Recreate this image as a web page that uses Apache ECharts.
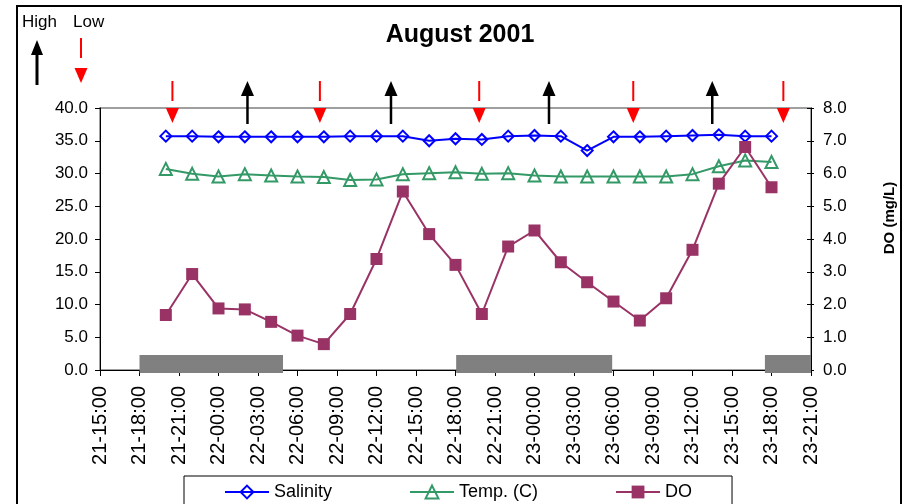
<!DOCTYPE html>
<html>
<head>
<meta charset="utf-8">
<script src="https://cdn.jsdelivr.net/npm/echarts@6/dist/echarts.min.js"></script>
<style>html,body{margin:0;padding:0;background:#fff}#c{width:908px;height:504px}</style>
</head>
<body>
<div id="c"></div>
<script>
// x positions are hours after 21-15:00
const tickLabels = ['21-15:00','21-18:00','21-21:00','22-00:00','22-03:00','22-06:00','22-09:00','22-12:00','22-15:00','22-18:00','22-21:00','23-00:00','23-03:00','23-06:00','23-09:00','23-12:00','23-15:00','23-18:00','23-21:00'];
const hours = [5,7,9,11,13,15,17,19,21,23,25,27,29,31,33,35,37,39,41,43,45,47,49,51];
const salinity = [35.7,35.7,35.6,35.6,35.6,35.6,35.6,35.7,35.7,35.7,35.0,35.3,35.2,35.7,35.8,35.7,33.5,35.6,35.6,35.7,35.8,35.9,35.7,35.7];
const temp = [30.7,29.95,29.55,29.9,29.7,29.55,29.45,29.0,29.1,29.9,30.05,30.2,29.95,30.05,29.7,29.55,29.55,29.55,29.55,29.55,29.9,31.1,32.0,31.75];
const dO = [1.68,2.93,1.88,1.85,1.47,1.05,0.79,1.71,3.39,5.45,4.15,3.21,1.71,3.77,4.26,3.29,2.68,2.09,1.51,2.19,3.67,5.69,6.81,5.58];
const lowTideHours = [5.5,16.7,28.8,40.5,51.9];
const highTideHours = [11.2,22.1,34.1,46.5];
const darkPeriods = [[3,13.9],[27.05,38.9],[50.5,54]];
const seriesNames = ['Salinity','Temp. (C)','DO'];

const FONT = "'Liberation Sans', Arial, sans-serif";
const chart = echarts.init(document.getElementById('c'), null, {renderer:'canvas'});

function pair(xs, ys){ return xs.map((x,i)=>[x, ys[i]]); }

const option = {
  animation: false,
  textStyle: {fontFamily: FONT},
  grid: {left:100, right:97, top:108, bottom:134, show:true, borderColor:'#808080', borderWidth:1.5, backgroundColor:'transparent'},
  legend: {
    data: seriesNames, left:184, top:476, padding:[7,40,20,40], itemGap:77, itemWidth:44, itemHeight:16,
    borderColor:'#000', borderWidth:1, textStyle:{fontSize:18, color:'#000', fontFamily:FONT}
  },
  xAxis: {
    type:'value', min:0, max:54, interval:3,
    axisLine:{show:true, onZero:false, lineStyle:{color:'#000', width:1}},
    axisTick:{show:true, length:6, lineStyle:{color:'#000'}},
    splitLine:{show:false},
    axisLabel:{rotate:90, margin:16, fontSize:20, color:'#000', fontFamily:FONT,
      formatter:(v)=>tickLabels[Math.round(v/3)] || ''}
  },
  yAxis: [
    {type:'value', min:0, max:40, interval:5, position:'left',
     axisLine:{show:true, lineStyle:{color:'#000'}}, axisTick:{show:true, length:5, lineStyle:{color:'#000'}},
     splitLine:{show:false}, axisLabel:{margin:12, fontSize:17, color:'#000', formatter:(v)=>v.toFixed(1)}},
    {type:'value', min:0, max:8, interval:1, position:'right',
     axisLine:{show:true, lineStyle:{color:'#000'}}, axisTick:{show:true, length:3, lineStyle:{color:'#000'}},
     splitLine:{show:false}, axisLabel:{margin:12, fontSize:17, color:'#000', formatter:(v)=>v.toFixed(1)}},
    {type:'value', min:0, max:8, interval:1, position:'right',
     axisLine:{show:false}, axisTick:{show:true, inside:true, length:4, lineStyle:{color:'#000'}},
     splitLine:{show:false}, axisLabel:{show:false}}
  ],
  graphic: [
    {type:'rect', shape:{x:17,y:6,width:884,height:520}, style:{fill:'none', stroke:'#000', lineWidth:2}, silent:true},
    {type:'text', style:{text:'August 2001', x:460, y:35, textAlign:'center', textVerticalAlign:'middle', font:"bold 25px "+FONT, fill:'#000'}},
    {type:'text', rotation:Math.PI/2, x:890, y:218, style:{text:'DO (mg/L)', x:0, y:0, textAlign:'center', textVerticalAlign:'middle', font:"bold 15px "+FONT, fill:'#000'}},
    {type:'text', style:{text:'High', x:22, y:22, textVerticalAlign:'middle', font:"17px "+FONT, fill:'#000'}},
    {type:'text', style:{text:'Low', x:73, y:22, textVerticalAlign:'middle', font:"17px "+FONT, fill:'#000'}},
    {type:'line', shape:{x1:37,y1:53,x2:37,y2:85}, style:{stroke:'#000', lineWidth:3}},
    {type:'polygon', shape:{points:[[37,40],[31,55],[43,55]]}, style:{fill:'#000'}},
    {type:'line', shape:{x1:81,y1:38,x2:81,y2:58}, style:{stroke:'#ff0000', lineWidth:2}},
    {type:'polygon', shape:{points:[[74.5,68],[87.5,68],[81,83]]}, style:{fill:'#ff0000'}}
  ],
  series: [
    {name:'Salinity', type:'line', yAxisIndex:0, data:pair(hours, salinity),
     symbol:'diamond', symbolSize:[11,11], showAllSymbol:true,
     lineStyle:{color:'#0000ff', width:2}, itemStyle:{color:'rgba(255,255,255,0)', borderColor:'#0000ff', borderWidth:2}, z:3},
    {name:'Temp. (C)', type:'line', yAxisIndex:0, data:pair(hours, temp),
     symbol:'triangle', symbolSize:[12,12], showAllSymbol:true,
     lineStyle:{color:'#339966', width:2}, itemStyle:{color:'rgba(255,255,255,0)', borderColor:'#339966', borderWidth:2}, z:3},
    {name:'DO', type:'line', yAxisIndex:1, data:pair(hours, dO),
     symbol:'rect', symbolSize:12, showAllSymbol:true,
     lineStyle:{color:'#993366', width:2}, itemStyle:{color:'#993366', borderColor:'#993366', borderWidth:0}, z:4},
    {type:'custom', yAxisIndex:0, silent:true, z:5, clip:false,
     data: darkPeriods.map(p=>[p[0], p[1]]),
     encode:{x:[0,1]},
     renderItem:(params, api)=>{
       const a = api.coord([api.value(0), 0]);
       const b = api.coord([api.value(1), 0]);
       return {type:'rect', shape:{x:a[0], y:a[1]-15, width:b[0]-a[0], height:18}, style:{fill:'#808080'}};
     }},
    {type:'custom', yAxisIndex:0, silent:true, z:5, clip:false,
     data: lowTideHours.map(h=>[h, 40]),
     renderItem:(params, api)=>{
       const p = api.coord([api.value(0), api.value(1)]);
       const x = p[0], t = p[1];
       return {type:'group', children:[
         {type:'line', shape:{x1:x,y1:t-27,x2:x,y2:t-7}, style:{stroke:'#ff0000', lineWidth:2}},
         {type:'polygon', shape:{points:[[x-6.5,t],[x+6.5,t],[x,t+15]]}, style:{fill:'#ff0000'}}
       ]};
     }},
    {type:'custom', yAxisIndex:0, silent:true, z:5, clip:false,
     data: highTideHours.map(h=>[h, 40]),
     renderItem:(params, api)=>{
       const p = api.coord([api.value(0), api.value(1)]);
       const x = p[0], t = p[1];
       return {type:'group', children:[
         {type:'line', shape:{x1:x,y1:t-13,x2:x,y2:t+16}, style:{stroke:'#000', lineWidth:2.5}},
         {type:'polygon', shape:{points:[[x,t-27],[x-6.5,t-12],[x+6.5,t-12]]}, style:{fill:'#000'}}
       ]};
     }}
  ]
};
chart.setOption(option);
</script>
</body>
</html>
